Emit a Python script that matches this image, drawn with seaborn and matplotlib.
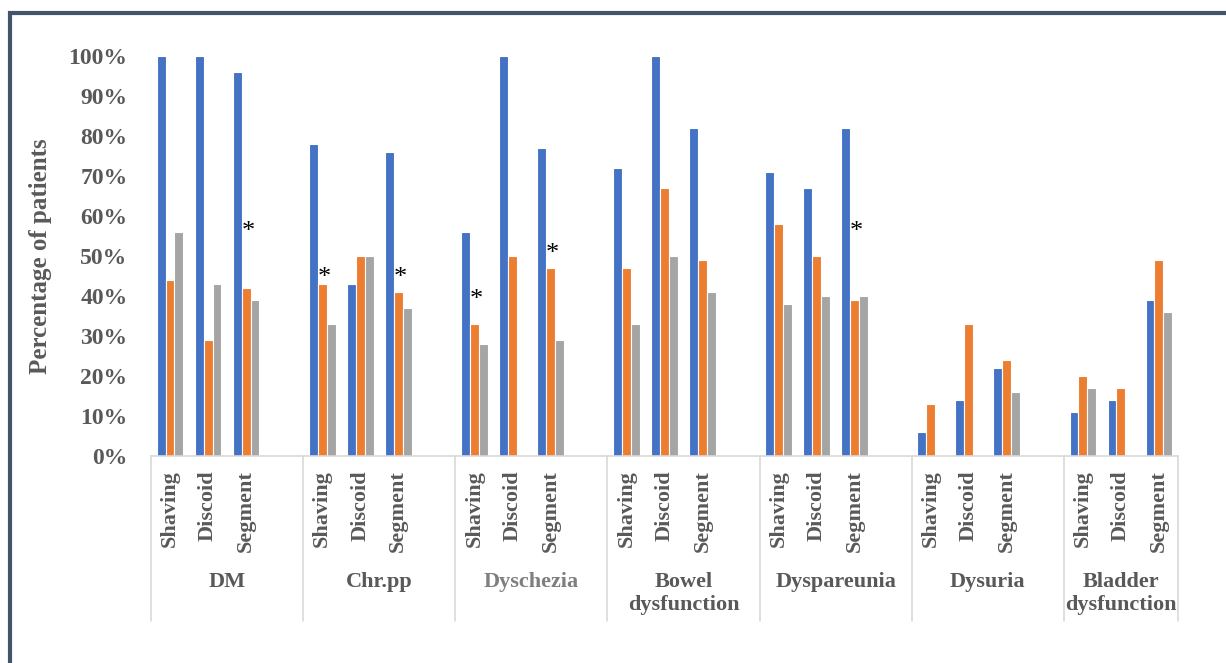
import matplotlib
matplotlib.use("Agg")
import matplotlib.pyplot as plt
import matplotlib.transforms as mtransforms
from matplotlib.patches import Rectangle
import pandas as pd
import seaborn as sns

# data (percent of patients)
categories = ["DM", "Chr.pp", "Dyschezia", "Bowel\ndysfunction",
              "Dyspareunia", "Dysuria", "Bladder\ndysfunction"]
techniques = ["Shaving", "Discoid", "Segment"]
series_names = ["Series 1", "Series 2", "Series 3"]

# one value per (category, technique), in category order
series1 = [100, 100, 96, 78, 43, 76, 56, 100, 77, 72, 100, 82,
           71, 67, 82, 6, 14, 22, 11, 14, 39]
series2 = [44, 29, 42, 43, 50, 41, 33, 50, 47, 47, 67, 49,
           58, 50, 39, 13, 33, 24, 20, 17, 49]
series3 = [56, 43, 39, 33, 50, 37, 28, 0, 29, 33, 50, 41,
           38, 40, 40, 0, 0, 16, 17, 0, 36]

# significance markers: (category, technique, height of the star)
stars = [("DM", "Segment", 56), ("Chr.pp", "Shaving", 44.5),
         ("Chr.pp", "Segment", 44.5), ("Dyschezia", "Shaving", 39),
         ("Dyschezia", "Segment", 50.5), ("Dyspareunia", "Segment", 56)]

colors = ["#4472C4", "#ED7D31", "#A5A5A5"]
text_grey = "#595959"

# slots along x: three techniques per category plus one empty gap slot
order = []
for i, cat in enumerate(categories):
    for t in techniques:
        order.append(f"{cat}|{t}")
    if i < len(categories) - 1:
        order.append(f"gap{i}")

rows = []
for i, cat in enumerate(categories):
    for j, t in enumerate(techniques):
        k = i * len(techniques) + j
        for name, vals in zip(series_names, [series1, series2, series3]):
            rows.append({"slot": f"{cat}|{t}", "series": name, "value": vals[k]})
df = pd.DataFrame(rows)

sns.set_style("white")
plt.rcParams["font.family"] = ["Liberation Serif", "DejaVu Serif"]
plt.rcParams["font.weight"] = "bold"

fig = plt.figure(figsize=(12.26, 6.63), dpi=100)
ax = fig.add_axes([0.1232, 0.3122, 0.8376, 0.6033])

sns.barplot(data=df, x="slot", y="value", hue="series", order=order,
            hue_order=series_names, palette=colors, width=0.7, saturation=1,
            edgecolor="white", linewidth=0.8, legend=False, ax=ax)

ax.set_ylim(0, 100)
ax.set_xlim(-0.5, len(order) - 0.5)
ax.set_yticks(range(0, 101, 10))
ax.set_yticklabels([f"{v}%" for v in range(0, 101, 10)],
                   fontsize=17, fontweight="bold", color=text_grey)
ax.tick_params(axis="y", length=0, pad=17)
ax.set_ylabel("Percentage of patients", fontsize=18, fontweight="bold",
              color=text_grey, labelpad=12)
ax.set_xlabel("")

ticklabels = [s.split("|")[1] if "|" in s else "" for s in order]
ax.set_xticks(range(len(order)))
ax.set_xticklabels(ticklabels, rotation=90, fontsize=16, fontweight="bold",
                   color=text_grey)
ax.tick_params(axis="x", length=0, pad=10)

for side in ["left", "top", "right"]:
    ax.spines[side].set_visible(False)
ax.spines["bottom"].set_color("#d9d9d9")
ax.spines["bottom"].set_linewidth(1.2)

# multi-level category axis: separators and group names
trans = mtransforms.blended_transform_factory(ax.transData, ax.transAxes)
bounds = [order.index(f"{c}|Shaving") - 0.5 for c in categories] + [len(order) - 0.5]
for b in bounds:
    ax.plot([b, b], [0, -0.4125], color="#d9d9d9", lw=1.2,
            transform=trans, clip_on=False)
for i, cat in enumerate(categories):
    center = (bounds[i] + bounds[i + 1]) / 2
    col = "#7f7f7f" if cat == "Dyschezia" else text_grey
    ax.text(center, -0.29, cat, transform=trans, ha="center", va="top",
            fontsize=16, fontweight="bold", color=col, linespacing=1.2)

for cat, t, h in stars:
    x = order.index(f"{cat}|{t}") + 0.05
    ax.text(x, h, "*", ha="center", va="center", fontsize=19,
            color="black", fontweight="normal")

# chart frame
fig.add_artist(Rectangle((10 / 1226, -0.2), 1.2, 1.2 - 13 / 663, fill=False,
                         lw=3, ec="#44546a", transform=fig.transFigure))

fig.savefig("out.png", dpi=100)
